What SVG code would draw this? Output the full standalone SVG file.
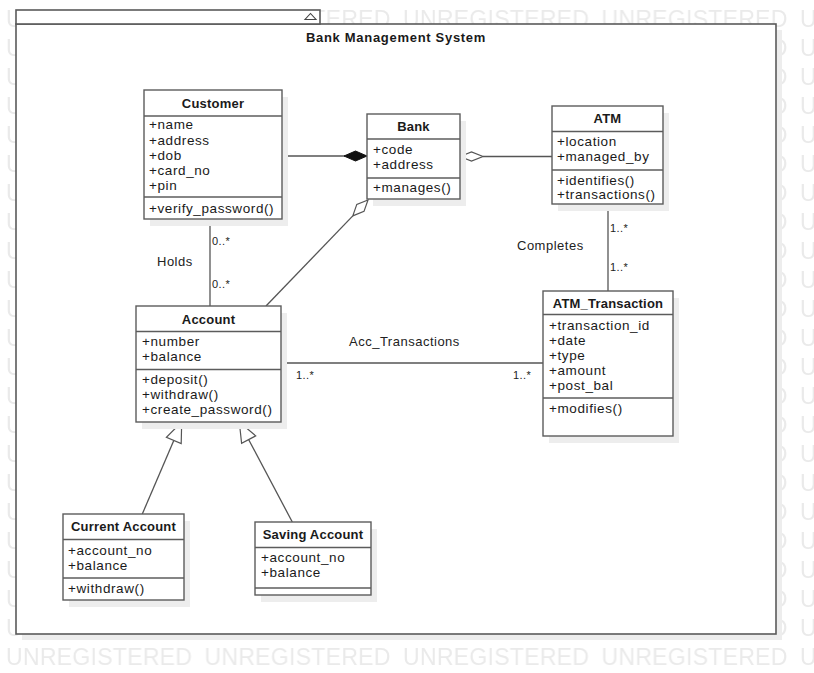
<svg xmlns="http://www.w3.org/2000/svg" width="814" height="673" viewBox="0 0 814 673">
  <style>
    .wm { font-family: "Liberation Sans", Arial, sans-serif; font-size: 23px; fill: #eaeaea; }
    .frame { fill: #fff; stroke: #5a5a5a; stroke-width: 1.6; }
    .shadow { fill: #ededed; }
    .box { fill: #fff; stroke: #5c5c5c; stroke-width: 1.4; }
    .sep { stroke: #5c5c5c; stroke-width: 1.4; }
    .t { font-family: "Liberation Sans", Arial, sans-serif; font-size: 13.5px; letter-spacing: 0.6px; fill: #1a1a1a; }
    .h { font-size: 13px; font-weight: bold; letter-spacing: 0.2px; text-anchor: middle; }
    .lbl { font-family: "Liberation Sans", Arial, sans-serif; font-size: 13px; letter-spacing: 0.5px; fill: #222; }
    .mult { font-family: "Liberation Sans", Arial, sans-serif; font-size: 11px; letter-spacing: 0.4px; fill: #222; }
    .edge { fill: none; stroke: #555; stroke-width: 1.3; }
    .filled { fill: #111; stroke: #111; stroke-width: 1; }
    .hollow { fill: #fff; stroke: #555; stroke-width: 1.2; }
  </style>
  <defs>
    <pattern id="wmTile" patternUnits="userSpaceOnUse" x="6" y="3" width="198.5" height="29">
      <text class="wm" x="0" y="23.5" textLength="186" lengthAdjust="spacing">UNREGISTERED</text>
    </pattern>
  </defs>

  <rect width="814" height="673" fill="#fff"/>
  <rect width="814" height="673" fill="url(#wmTile)"/>

  <!-- package frame -->
  <g id="frame">
    <rect class="shadow" x="22" y="30" width="760" height="610"/>
    <rect class="frame" x="16" y="24" width="760" height="610"/>
    <rect class="frame" x="16" y="10" width="304" height="14"/>
    <polygon points="305,19.5 316,19.5 310.5,13.5" fill="none" stroke="#444" stroke-width="1.1"/>
    <text class="t h" x="396" y="41.5" style="letter-spacing:0.7px">Bank Management System</text>
  </g>

  <!-- connectors -->
  <g id="connectors">
    <!-- Customer to Bank (composition) -->
    <line class="edge" x1="282" y1="156" x2="345" y2="156"/>
    <polygon class="filled" points="344,156 355.5,151 367,156 355.5,161"/>
    <!-- Bank to ATM (aggregation) -->
    <line class="edge" x1="483" y1="156.5" x2="552" y2="156.5"/>
    <polygon class="hollow" points="460,156.5 471.5,152 483,156.5 471.5,161"/>
    <!-- Bank to Account (aggregation) -->
    <line class="edge" x1="352.8" y1="215.9" x2="266" y2="306"/>
    <polygon class="hollow" points="368,200 364,211.4 352.8,215.9 356.8,204.4"/>
    <!-- Customer to Account -->
    <line class="edge" x1="210" y1="219" x2="210" y2="306"/>
    <!-- ATM to ATM_Transaction -->
    <line class="edge" x1="608" y1="204" x2="608" y2="291"/>
    <!-- Account to ATM_Transaction -->
    <line class="edge" x1="281" y1="363" x2="543" y2="363"/>
    <!-- generalisations to Account -->
    <line class="edge" x1="142.3" y1="514" x2="173.8" y2="440.4"/>
    <polygon class="hollow" points="181.7,422 181.2,443.5 166.4,437.2"/>
    <line class="edge" x1="292.3" y1="522" x2="248.7" y2="439.7"/>
    <polygon class="hollow" points="239.3,422 255.7,435.9 241.6,443.4"/>

    <text class="mult" x="212" y="245">0..*</text>
    <text class="mult" x="212" y="288">0..*</text>
    <text class="lbl" x="157" y="266">Holds</text>
    <text class="mult" x="610" y="232">1..*</text>
    <text class="mult" x="610" y="271">1..*</text>
    <text class="lbl" x="517" y="249.5">Completes</text>
    <text class="lbl" x="349" y="345.5">Acc_Transactions</text>
    <text class="mult" x="296" y="379">1..*</text>
    <text class="mult" x="513" y="379">1..*</text>
  </g>

  <!-- Customer -->
  <g id="customer">
    <rect class="shadow" x="150" y="97" width="138" height="129"/>
    <rect class="box" x="144" y="90" width="138" height="129"/>
    <line class="sep" x1="144" y1="116" x2="282" y2="116"/>
    <line class="sep" x1="144" y1="197" x2="282" y2="197"/>
    <text class="t h" x="213" y="107.5">Customer</text>
    <text class="t" x="149" y="129">+name</text>
    <text class="t" x="149" y="144.5">+address</text>
    <text class="t" x="149" y="159.5">+dob</text>
    <text class="t" x="149" y="174.5">+card_no</text>
    <text class="t" x="149" y="189.5">+pin</text>
    <text class="t" x="149" y="212.5">+verify_password()</text>
  </g>

  <!-- Bank -->
  <g id="bank">
    <rect class="shadow" x="373" y="121" width="93" height="85"/>
    <rect class="box" x="367" y="114" width="93" height="85"/>
    <line class="sep" x1="367" y1="139" x2="460" y2="139"/>
    <line class="sep" x1="367" y1="178" x2="460" y2="178"/>
    <text class="t h" x="413.5" y="131">Bank</text>
    <text class="t" x="373" y="154">+code</text>
    <text class="t" x="373" y="168.5">+address</text>
    <text class="t" x="373" y="192">+manages()</text>
  </g>

  <!-- ATM -->
  <g id="atm">
    <rect class="shadow" x="558" y="113" width="111" height="98"/>
    <rect class="box" x="552" y="106" width="111" height="98"/>
    <line class="sep" x1="552" y1="131.5" x2="663" y2="131.5"/>
    <line class="sep" x1="552" y1="170" x2="663" y2="170"/>
    <text class="t h" x="607.5" y="123">ATM</text>
    <text class="t" x="557" y="146">+location</text>
    <text class="t" x="557" y="161">+managed_by</text>
    <text class="t" x="557" y="184.5">+identifies()</text>
    <text class="t" x="557" y="199">+transactions()</text>
  </g>

  <!-- ATM_Transaction -->
  <g id="atm-transaction">
    <rect class="shadow" x="549" y="298" width="130" height="145"/>
    <rect class="box" x="543" y="291" width="130" height="145"/>
    <line class="sep" x1="543" y1="314.5" x2="673" y2="314.5"/>
    <line class="sep" x1="543" y1="398" x2="673" y2="398"/>
    <text class="t h" x="608" y="307.5">ATM_Transaction</text>
    <text class="t" x="549" y="330">+transaction_id</text>
    <text class="t" x="549" y="345">+date</text>
    <text class="t" x="549" y="360">+type</text>
    <text class="t" x="549" y="375">+amount</text>
    <text class="t" x="549" y="390">+post_bal</text>
    <text class="t" x="549" y="413">+modifies()</text>
  </g>

  <!-- Account -->
  <g id="account">
    <rect class="shadow" x="142" y="313" width="145" height="116"/>
    <rect class="box" x="136" y="306" width="145" height="116"/>
    <line class="sep" x1="136" y1="331.5" x2="281" y2="331.5"/>
    <line class="sep" x1="136" y1="369.5" x2="281" y2="369.5"/>
    <text class="t h" x="208.5" y="323.5">Account</text>
    <text class="t" x="142" y="346">+number</text>
    <text class="t" x="142" y="361">+balance</text>
    <text class="t" x="142" y="384">+deposit()</text>
    <text class="t" x="142" y="399">+withdraw()</text>
    <text class="t" x="142" y="414">+create_password()</text>
  </g>

  <!-- Current Account -->
  <g id="current-account">
    <rect class="shadow" x="69" y="521" width="121" height="86"/>
    <rect class="box" x="63" y="514" width="121" height="86"/>
    <line class="sep" x1="63" y1="539.5" x2="184" y2="539.5"/>
    <line class="sep" x1="63" y1="578" x2="184" y2="578"/>
    <text class="t h" x="123.5" y="531">Current Account</text>
    <text class="t" x="68" y="554.5">+account_no</text>
    <text class="t" x="68" y="569.5">+balance</text>
    <text class="t" x="68" y="592.5">+withdraw()</text>
  </g>

  <!-- Saving Account -->
  <g id="saving-account">
    <rect class="shadow" x="261" y="529" width="116" height="73"/>
    <rect class="box" x="255" y="522" width="116" height="73"/>
    <line class="sep" x1="255" y1="547.5" x2="371" y2="547.5"/>
    <line class="sep" x1="255" y1="588" x2="371" y2="588"/>
    <text class="t h" x="313" y="539">Saving Account</text>
    <text class="t" x="261" y="562">+account_no</text>
    <text class="t" x="261" y="577">+balance</text>
  </g>
</svg>
